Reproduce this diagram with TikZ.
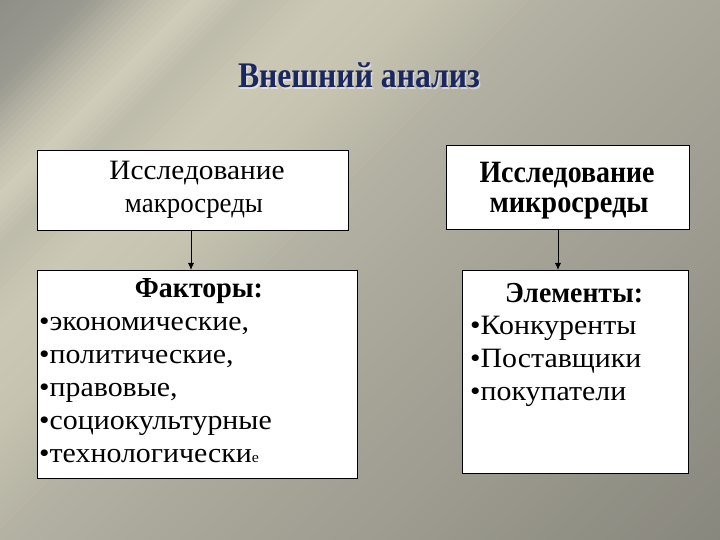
\documentclass[tikz,border=0pt]{standalone}
\usepackage{fontspec}
\usepackage{graphicx}
\setmainfont{Liberation Serif}
\usetikzlibrary{arrows.meta}
\definecolor{g0}{HTML}{8A8A84}
\definecolor{g1}{HTML}{9A9990}
\definecolor{g2}{HTML}{C2BFAE}
\definecolor{g3}{HTML}{D0CDBA}
\definecolor{g4}{HTML}{BDBBAA}
\definecolor{g5}{HTML}{CBC8B5}
\definecolor{g6}{HTML}{C6C3B0}
\definecolor{g7}{HTML}{B4B2A3}
\definecolor{g8}{HTML}{A9A79A}
\definecolor{g9}{HTML}{9E9C90}
\definecolor{g10}{HTML}{86857C}
\definecolor{navy}{HTML}{1A2760}
\newlength\mylen
\newcommand\bodysz{\fontsize{28bp}{32bp}\selectfont}
\newcommand\boldsz{\fontsize{31bp}{34bp}\selectfont\bfseries}
\newcommand\headsz{\fontsize{29bp}{32bp}\selectfont\bfseries}
\newcommand\titlesz{\fontsize{36bp}{40bp}\selectfont\bfseries}
\newcommand\fitto[2]{\resizebox{#1}{\height}{#2}}
\begin{document}
\settowidth{\mylen}{\bodysz •экономические,}%
\pgfmathsetmacro\rf{210.79/\mylen}%
\begin{tikzpicture}[x=1bp,y=-1bp,
  box/.style={draw=black, line width=0.9bp, fill=white, inner sep=0pt, anchor=north west},
  txt/.style={inner sep=0pt, anchor=base},
  ltxt/.style={inner sep=0pt, anchor=base west},
  arr/.style={line width=0.9bp, -{Latex[length=7bp,width=6bp]}}]
\useasboundingbox (0,0) rectangle (720,540);
% background
\begin{scope}
\clip (0,0) rectangle (720,540);
\begin{scope}[rotate=-45]
\foreach \ta/\tb/\ca/\cb in {-20/60/g0/g1, 60/110/g1/g2, 110/140/g2/g3, 140/175/g3/g4, 175/230/g4/g5, 230/300/g5/g6, 300/380/g6/g7, 380/500/g7/g8, 500/650/g8/g9, 650/920/g9/g10}{
  \pgfmathtruncatemacro\nn{(\tb-\ta)/5}
  \foreach \k in {1,...,\nn}{
    \pgfmathsetmacro\uu{\ta+(\k-1)*(\tb-\ta)/\nn}
    \pgfmathsetmacro\ww{\uu+(\tb-\ta)/\nn+1}
    \pgfmathtruncatemacro\pp{100-100*(\k-0.5)/\nn}
    \fill[\ca!\pp!\cb] (\uu,-1500) rectangle (\ww,1500);
  }
}
\end{scope}
\end{scope}
% title
\node[txt, text=white, opacity=0.45] (ttls) at (360.5,89.5) {\titlesz\fitto{242bp}{Внешний анализ}};
\node[txt, text=navy] (ttl) at (359,88) {\titlesz\fitto{242bp}{Внешний анализ}};
% boxes
\node[box, minimum width=311bp, minimum height=80bp] (b1) at (37,150) {};
\node[box, minimum width=243bp, minimum height=84bp] (b2) at (446,145) {};
\node[box, minimum width=320bp, minimum height=208bp] (b3) at (37,270) {};
\node[box, minimum width=226bp, minimum height=203bp] (b4) at (462,270) {};
% box texts
\node[txt] (t1a) at (197,180) {\bodysz\fitto{175bp}{Исследование}};
\node[txt] (t1b) at (194,213) {\bodysz\fitto{138bp}{макросреды}};
\node[txt] (t2a) at (567,183) {\boldsz\fitto{175bp}{Исследование}};
\node[txt] (t2b) at (569,213) {\boldsz\fitto{159bp}{микросреды}};
\node[txt] (h3) at (199,298) {\headsz\fitto{128bp}{Факторы:}};
\node[txt] (h4) at (574,302) {\headsz\fitto{138bp}{Элементы:}};
\node[ltxt] (l31) at (39,330) {\bodysz\scalebox{\rf}[1]{•экономические,}};
\node[ltxt] (l32) at (39,363) {\bodysz\scalebox{\rf}[1]{•политические,}};
\node[ltxt] (l33) at (39,396) {\bodysz\scalebox{\rf}[1]{•правовые,}};
\node[ltxt] (l34) at (39,429) {\bodysz\scalebox{\rf}[1]{•социокультурные}};
\node[ltxt] (l35) at (39,462) {\bodysz\scalebox{\rf}[1]{•технологически{\fontsize{15bp}{15bp}\selectfont е}}};
\node[ltxt] (l41) at (470,334) {\bodysz\scalebox{\rf}[1]{•Конкуренты}};
\node[ltxt] (l42) at (470,367) {\bodysz\scalebox{\rf}[1]{•Поставщики}};
\node[ltxt] (l43) at (470,400) {\bodysz\scalebox{\rf}[1]{•покупатели}};
% connectors
\coordinate (a1) at (191,230);
\coordinate (a2) at (558,229);
\draw[arr] (a1) -- (a1 |- b3.north);
\draw[arr] (a2) -- (a2 |- b4.north);
\end{tikzpicture}
\end{document}
